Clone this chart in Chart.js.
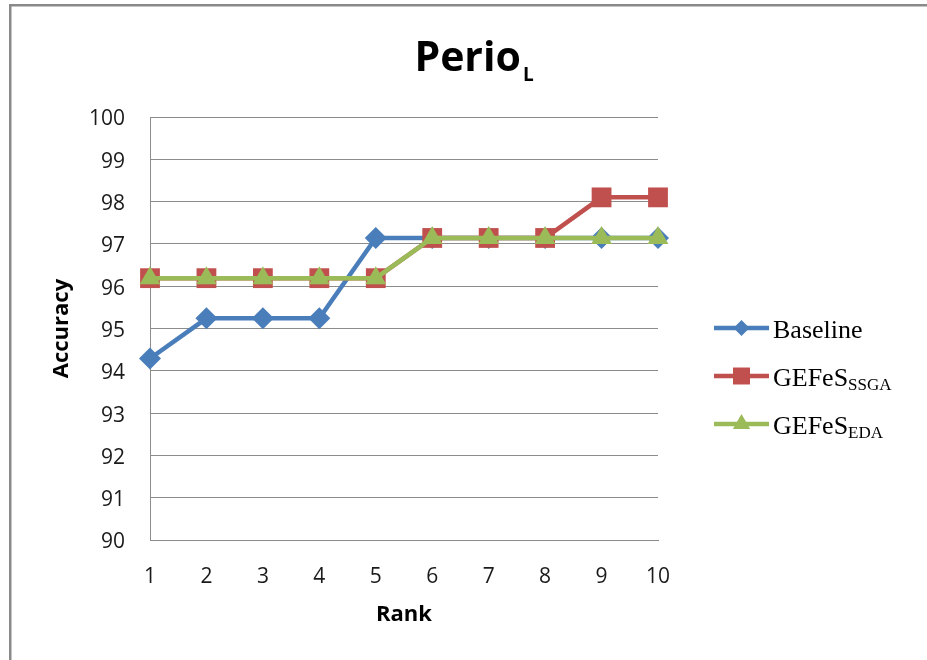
<!DOCTYPE html>
<html>
<head>
<meta charset="utf-8">
<script src="https://cdn.jsdelivr.net/npm/chart.js@4/dist/chart.umd.min.js"></script>
<style>
  html, body { margin: 0; padding: 0; background: #ffffff; }
  canvas { display: block; }
</style>
</head>
<body>
<canvas id="chart" width="927" height="660"></canvas>
<script>
// Rank on the x axis, accuracy (%) on the y axis
const ranks = ['1', '2', '3', '4', '5', '6', '7', '8', '9', '10'];
const baseline  = [94.29, 95.24, 95.24, 95.24, 97.14, 97.14, 97.14, 97.14, 97.14, 97.14];
const gefesSSGA = [96.19, 96.19, 96.19, 96.19, 96.19, 97.14, 97.14, 97.14, 98.10, 98.10];
const gefesEDA  = [96.19, 96.19, 96.19, 96.19, 96.19, 97.14, 97.14, 97.14, 97.14, 97.14];
const yTicks = [90, 91, 92, 93, 94, 95, 96, 97, 98, 99, 100];

// Legend names: main text plus subscript
const seriesNames = ['Baseline', 'GEFeS', 'GEFeS'];
const seriesSubs  = ['', 'SSGA', 'EDA'];

const titleMain = 'Perio';
const titleSub = 'L';
const xTitle = 'Rank';
const yTitle = 'Accuracy';

const BLUE = '#4a7ebb';
const RED = '#c0504d';
const GREEN = '#9bbb59';
const GRID = '#8c8c8c';
const TEXT = '#1a1a1a';

const styles = [
  { color: BLUE,  pointStyle: 'rectRot',  radius: 11, legendRadius: 8 },
  { color: RED,   pointStyle: 'rect',     radius: 14, legendRadius: 12 },
  { color: GREEN, pointStyle: 'triangle', radius: 12, legendRadius: 10 }
];
const seriesData = [baseline, gefesSSGA, gefesEDA];

const datasets = seriesData.map((d, i) => ({
  label: seriesNames[i] + (seriesSubs[i] ? ' ' + seriesSubs[i] : ''),
  data: d,
  borderColor: styles[i].color,
  backgroundColor: styles[i].color,
  borderWidth: 4.5,
  pointStyle: styles[i].pointStyle,
  pointRadius: styles[i].radius,
  pointHoverRadius: styles[i].radius,
  pointBorderWidth: 0,
  pointBackgroundColor: styles[i].color,
  tension: 0,
  order: 3 - i
}));

// Outer frame, title, axis titles and legend with subscripts
const decor = {
  id: 'decor',
  beforeDraw(chart) {
    const ctx = chart.ctx;
    ctx.save();
    ctx.fillStyle = '#ffffff';
    ctx.fillRect(0, 0, chart.width, chart.height);
    ctx.fillStyle = '#8a8a8a';
    ctx.fillRect(9, 4, chart.width - 9, 2.5);
    ctx.fillRect(9, 4, 2.5, chart.height - 4);
    ctx.restore();
  },
  afterDraw(chart) {
    const ctx = chart.ctx;
    const area = chart.chartArea;
    ctx.save();
    ctx.fillStyle = '#000000';
    ctx.textBaseline = 'alphabetic';

    // Title
    ctx.font = 'bold 41px "Open Sans"';
    const wMain = ctx.measureText(titleMain).width;
    ctx.font = 'bold 19px "Open Sans"';
    const wSub = ctx.measureText(titleSub).width;
    const tx = 474 - (wMain + wSub + 2) / 2;
    ctx.font = 'bold 41px "Open Sans"';
    ctx.textAlign = 'left';
    ctx.fillText(titleMain, tx, 71);
    ctx.font = 'bold 19px "Open Sans"';
    ctx.fillText(titleSub, tx + wMain + 2, 81);

    // Axis titles
    ctx.font = 'bold 22px "Open Sans"';
    ctx.textAlign = 'center';
    ctx.textBaseline = 'middle';
    ctx.fillText(xTitle, (area.left + area.right) / 2, 615);
    ctx.save();
    ctx.translate(62, (area.top + area.bottom) / 2);
    ctx.rotate(-Math.PI / 2);
    ctx.fillText(yTitle, 0, 0);
    ctx.restore();

    // Legend
    const rowY = [328, 376, 424];
    styles.forEach((s, i) => {
      const y = rowY[i];
      ctx.strokeStyle = s.color;
      ctx.lineWidth = 4.5;
      ctx.beginPath();
      ctx.moveTo(714, y);
      ctx.lineTo(769, y);
      ctx.stroke();
      ctx.fillStyle = s.color;
      Chart.helpers.drawPoint(ctx, {
        pointStyle: s.pointStyle, radius: s.legendRadius, rotation: 0, borderWidth: 0
      }, 741.5, y);
      ctx.fillStyle = '#000000';
      ctx.textAlign = 'left';
      ctx.textBaseline = 'alphabetic';
      ctx.font = '26px "Liberation Serif"';
      ctx.fillText(seriesNames[i], 773, y + 9.5);
      if (seriesSubs[i]) {
        const w = ctx.measureText(seriesNames[i]).width;
        ctx.font = '17px "Liberation Serif"';
        ctx.fillText(seriesSubs[i], 773 + w, y + 14);
      }
    });
    ctx.restore();
  }
};

new Chart(document.getElementById('chart'), {
  type: 'line',
  data: { labels: ranks, datasets },
  options: {
    responsive: false,
    animation: false,
    devicePixelRatio: 1,
    layout: { padding: { top: 117, right: 269, bottom: 0, left: 0 } },
    plugins: {
      legend: { display: false },
      title: { display: false },
      tooltip: { enabled: false }
    },
    scales: {
      x: {
        type: 'category',
        offset: false,
        afterFit(scale) { scale.height = 120; },
        grid: { display: false, drawTicks: false },
        border: { display: true, color: GRID, width: 1 },
        ticks: {
          color: TEXT,
          font: { family: 'Open Sans', size: 21 },
          padding: 24,
          maxRotation: 0,
          autoSkip: false
        }
      },
      y: {
        min: 90,
        max: 100,
        afterFit(scale) { scale.width = 150; },
        afterBuildTicks(scale) { scale.ticks = yTicks.map(v => ({ value: v })); },
        grid: { color: GRID, lineWidth: 1, drawTicks: false },
        border: { display: true, color: GRID, width: 1 },
        ticks: {
          color: TEXT,
          font: { family: 'Open Sans', size: 21 },
          padding: 25,
          labelOffset: 2.5,
          callback: v => String(v)
        }
      }
    }
  },
  plugins: [decor]
});
</script>
</body>
</html>
